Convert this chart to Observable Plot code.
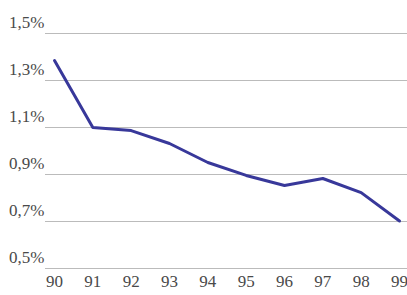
<!DOCTYPE html>
<html>
<head>
<meta charset="utf-8">
<script src="https://cdn.jsdelivr.net/npm/d3@7"></script>
<script src="https://cdn.jsdelivr.net/npm/@observablehq/plot@0.6"></script>
<style>
  html, body { margin: 0; padding: 0; background: #fff; }
</style>
</head>
<body>
<div id="chart"></div>
<script>
const years = [90, 91, 92, 93, 94, 95, 96, 97, 98, 99];
const rates = [1.385, 1.10, 1.087, 1.032, 0.951, 0.896, 0.853, 0.883, 0.823, 0.702];
const yTicks = [0.5, 0.7, 0.9, 1.1, 1.3, 1.5];

const data = years.map((y, i) => ({year: y, rate: rates[i]}));
const fmtY = d => d.toFixed(1).replace(".", ",") + "%";
const serif = "Liberation Serif";

const chart = Plot.plot({
  width: 407,
  height: 295,
  marginLeft: 45,
  marginRight: 0,
  marginTop: 33,
  marginBottom: 27,
  style: {fontFamily: serif, fontSize: "17px", color: "#444"},
  x: {domain: [90, 99], insetLeft: 9, insetRight: 8},
  y: {domain: [0.5, 1.5]},
  marks: [
    Plot.gridY(yTicks, {stroke: "#bbb", strokeOpacity: 1, strokeWidth: 1}),
    Plot.axisY(yTicks, {tickSize: 0, tickPadding: 1, dy: -11, fill: "#4a4a4a", label: null, tickFormat: fmtY, fontSize: 17, fontFamily: serif}),
    Plot.axisX(years, {tickSize: 0, tickPadding: 6, fill: "#4a4a4a", label: null, tickFormat: d => String(d), fontSize: 17, fontFamily: serif}),
    Plot.line(data, {x: "year", y: "rate", stroke: "#38389a", strokeWidth: 3, strokeLinejoin: "round"})
  ]
});
document.getElementById("chart").appendChild(chart);
</script>
</body>
</html>
